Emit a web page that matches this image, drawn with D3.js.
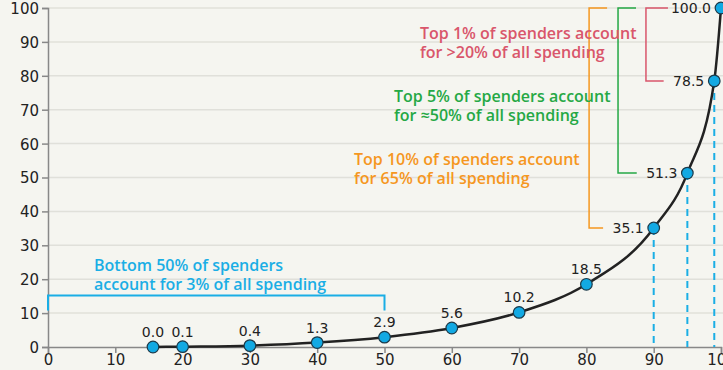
<!DOCTYPE html>
<html>
<head>
<meta charset="utf-8">
<script src="https://cdn.jsdelivr.net/npm/d3@7"></script>
<style>
  body { margin: 0; background: #f5f5f0; }
  svg { display: block; }
  .tick text { font-family: "DejaVu Sans", sans-serif; font-size: 15px; fill: #222; }
  .note { font-family: "Open Sans", sans-serif; font-weight: 600; font-size: 16px; }
  .val { font-family: "DejaVu Sans", sans-serif; font-size: 14px; fill: #222; }
</style>
</head>
<body>
<div class="chart"></div>
<script>
// share of spenders (x, percentile) vs cumulative share of spending (y)
const percentile = [15.6, 20, 30, 40, 50, 60, 70, 80, 90, 95, 99, 100];
const spending = [0.0, 0.1, 0.4, 1.3, 2.9, 5.6, 10.2, 18.5, 35.1, 51.3, 78.5, 100.0];
const sideLabels = [90, 95, 99, 100]; // these values get their label on the left
const dashedAt = [90, 95, 99];
const xTicks = [0, 10, 20, 30, 40, 50, 60, 70, 80, 90, 100];
const yTicks = [0, 10, 20, 30, 40, 50, 60, 70, 80, 90, 100];

const blue = '#1aaee5', red = '#d9566b', green = '#25a845', orange = '#f5971f';

// brackets: x position (data units), top / bottom value, colour
const brackets = [
  { x: 80.4, top: 100, bottom: 35.1, color: orange, topLen: 18 },
  { x: 84.7, top: 100, bottom: 51.3, color: green, topLen: 18 },
  { x: 88.85, top: 100, bottom: 78.5, color: red, topLen: 22 }
];

const notes = [
  { lines: ['Top 1% of spenders account', 'for >20% of all spending'], x: 420, y: 39, color: red },
  { lines: ['Top 5% of spenders account', 'for \u224850% of all spending'], x: 394, y: 102, color: green },
  { lines: ['Top 10% of spenders account', 'for 65% of all spending'], x: 354, y: 165, color: orange },
  { lines: ['Bottom 50% of spenders', 'account for 3% of all spending'], x: 94, y: 271, color: blue }
];

const data = percentile.map((p, i) => ({ p: p, v: spending[i] }));

const width = 723, height = 370;
const x = d3.scaleLinear().domain([0, 100]).range([48, 721]);
const y = d3.scaleLinear().domain([0, 100]).range([347, 8]);

const svg = d3.select('.chart').append('svg')
  .attr('width', width)
  .attr('height', height);

// grid
svg.append('g')
  .selectAll('line')
  .data(yTicks.filter(d => d > 0))
  .enter()
  .append('line')
  .attr('x1', x(0)).attr('x2', width)
  .attr('y1', d => y(d)).attr('y2', d => y(d))
  .attr('stroke', '#e0e0da')
  .attr('stroke-width', 1.5);

const yAxis = svg.append('g')
  .attr('transform', 'translate(' + x(0) + ',0)')
  .call(d3.axisLeft(y).tickValues(yTicks).tickSize(6).tickPadding(3));
const xAxis = svg.append('g')
  .attr('transform', 'translate(0,' + y(0) + ')')
  .call(d3.axisBottom(x).tickValues(xTicks).tickSize(6).tickPadding(1));
[yAxis, xAxis].forEach(a => {
  a.select('.domain').attr('stroke', '#888').attr('stroke-width', 1.5);
  a.selectAll('.tick line').attr('stroke', '#888').attr('stroke-width', 1.5);
});
yAxis.selectAll('.tick text').attr('dy', '0.36em');

// dashed drop lines
svg.append('g')
  .selectAll('line')
  .data(data.filter(d => dashedAt.includes(d.p)))
  .enter()
  .append('line')
  .attr('x1', d => x(d.p)).attr('x2', d => x(d.p))
  .attr('y1', d => y(d.v)).attr('y2', y(0))
  .attr('stroke', blue)
  .attr('stroke-width', 2)
  .attr('stroke-dasharray', '7,5');

// blue bottom bracket
const bY = y(15.2);
svg.append('path')
  .attr('d', 'M' + x(0) + ',' + y(10.8) + 'V' + bY + 'H' + x(50) + 'V' + y(10.8))
  .attr('fill', 'none')
  .attr('stroke', blue)
  .attr('stroke-width', 2);

// right-side brackets
brackets.forEach(b => {
  const bottomPt = data.find(d => d.v === b.bottom);
  const bottomEnd = x(bottomPt.p) - 10 - bottomPt.v.toFixed(1).length * 8.9 - 5;
  svg.append('path')
    .attr('d', 'M' + (x(b.x) + b.topLen) + ',' + y(b.top) + 'H' + x(b.x) +
      'V' + y(b.bottom) + 'H' + bottomEnd)
    .attr('fill', 'none')
    .attr('stroke', b.color)
    .attr('stroke-width', 1.5);
});

// curve
svg.append('path')
  .datum(data)
  .attr('d', d3.line().x(d => x(d.p)).y(d => y(d.v)).curve(d3.curveMonotoneX))
  .attr('fill', 'none')
  .attr('stroke', '#222')
  .attr('stroke-width', 2.5);

// points
svg.append('g')
  .selectAll('circle')
  .data(data)
  .enter()
  .append('circle')
  .attr('cx', d => x(d.p))
  .attr('cy', d => y(d.v))
  .attr('r', 5.8)
  .attr('fill', '#12a9e3')
  .attr('stroke', '#1b3a4a')
  .attr('stroke-width', 1.2);

// value labels
svg.append('g')
  .selectAll('text')
  .data(data)
  .enter()
  .append('text')
  .attr('class', 'val')
  .attr('x', d => sideLabels.includes(d.p) ? x(d.p) - 10 : x(d.p))
  .attr('y', d => sideLabels.includes(d.p) ? y(d.v) + 5 : y(d.v) - 10)
  .attr('text-anchor', d => sideLabels.includes(d.p) ? 'end' : 'middle')
  .text(d => d.v.toFixed(1));

// annotations
notes.forEach(n => {
  const t = svg.append('text')
    .attr('class', 'note')
    .attr('fill', n.color);
  n.lines.forEach((l, i) => {
    t.append('tspan')
      .attr('x', n.x)
      .attr('y', n.y + i * 18.5)
      .text(l);
  });
});
</script>
</body>
</html>
